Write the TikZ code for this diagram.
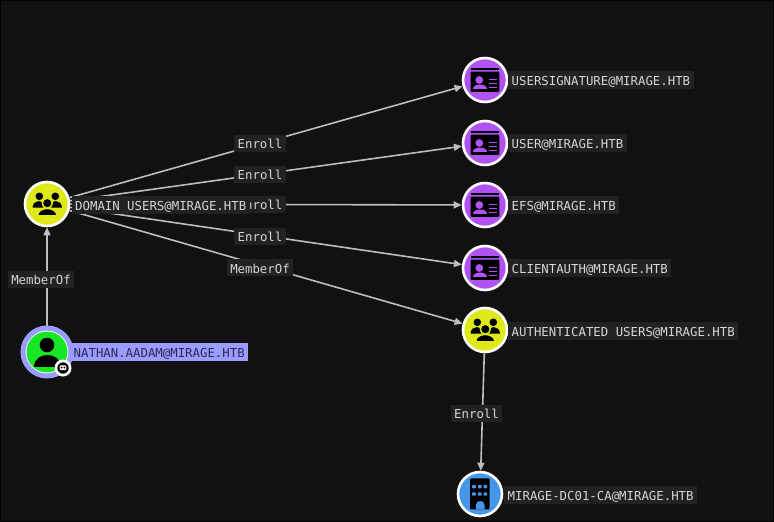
\documentclass[tikz,border=0pt]{standalone}
\usepackage{fontspec}
\setmonofont{DejaVu Sans Mono}
\usetikzlibrary{arrows.meta}
\definecolor{bgc}{HTML}{111111}
\definecolor{lblc}{HTML}{222222}
\definecolor{txtc}{HTML}{D6D6D6}
\definecolor{edgec}{HTML}{BDBDBD}
\definecolor{yelc}{HTML}{DFE818}
\definecolor{purc}{HTML}{B153F3}
\definecolor{grnc}{HTML}{17E625}
\definecolor{bluc}{HTML}{4696E9}
\definecolor{perc}{HTML}{9A9CFF}
\definecolor{navc}{HTML}{2A2A55}
\tikzset{
  x=1pt,y=-1pt,
  gnode/.style={circle,draw=white,line width=2.6pt,minimum size=44pt,inner sep=0pt,fill=#1},
  elabel/.style={fill=lblc,text=txtc,font=\ttfamily\fontsize{12.35}{14}\selectfont,inner xsep=3.5pt,inner ysep=0pt,minimum height=17pt,text height=11pt,text depth=0.5pt},
  nlabel/.style={fill=lblc,text=txtc,font=\ttfamily\fontsize{12.35}{14}\selectfont,anchor=west,inner xsep=3.5pt,inner ysep=0pt,minimum height=18pt,text height=12pt,text depth=0.5pt},
  edge/.style={draw=edgec,line width=1.6pt,-{Triangle[length=8pt,width=7pt,fill=edgec]}},
  certicon/.pic={
    \fill[black] (-14.5,-11.8) rectangle (14.3,-10);
    \fill[black,rounded corners=1pt] (-14.5,-8.3) rectangle (14.3,11.8);
    \fill[purc] (-5.7,0) circle[radius=3.9pt];
    \fill[purc] (-12.3,9) .. controls (-12.3,2.6) and (2.3,2.6) .. (2.3,9) -- cycle;
    \fill[purc] (4,-1.5) rectangle (11.7,0);
    \fill[purc] (4,2.5) rectangle (11.7,4);
    \fill[purc] (4,6.5) rectangle (11.7,8);
  },
  groupicon/.pic={
    \fill[black] (-7.7,-7.7) circle[radius=3.8pt];
    \fill[black] (8.3,-7.7) circle[radius=3.8pt];
    \fill[black] (-14.5,3.6) .. controls (-14,-5) and (-3,-5) .. (-2,3.6) -- cycle;
    \fill[black] (15,3.6) .. controls (14.5,-5) and (3.5,-5) .. (2.5,3.6) -- cycle;
    \fill[black,draw=yelc,line width=1.5pt] (0.3,-0.8) circle[radius=5pt];
    \fill[black,draw=yelc,line width=1.5pt] (-9.5,11.8) .. controls (-9.5,2) and (10,2) .. (10,11.8) -- cycle;
  },
  personicon/.pic={
    \fill[black] (0,-7) circle[radius=7.3pt];
    \fill[black] (-13.5,15) .. controls (-13.5,-1) and (13.5,-1) .. (13.5,15) -- cycle;
  },
  buildicon/.pic={
    \fill[black,rounded corners=1pt] (-10,-15.7) rectangle (9.5,15.3);
    \foreach \wy in {-7.3,0}{\foreach \wx in {-6,-0.3,5.4}{\fill[bluc,rounded corners=.6pt] (\wx-1.8,\wy-1.6) rectangle (\wx+1.8,\wy+1.6);}}
    \fill[bluc] (-4,15.3) -- (-4,11) .. controls (-4,5.7) and (4.5,5.7) .. (4.5,11) -- (4.5,15.3) -- cycle;
  },
}
\begin{document}
\begin{tikzpicture}
\useasboundingbox (0,0) rectangle (774,522);
\fill[bgc] (0,0) rectangle (774,522);
\draw[black,line width=2pt] (0,0) rectangle (774,522);

% nodes
\node[gnode=yelc] (dom) at (47,204) {};
\node[circle,draw=perc,line width=5pt,minimum size=48pt,inner sep=0pt,fill=white] (nat) at (47,352) {};
\node[gnode=purc] (us) at (485,80) {};
\node[gnode=purc] (uu) at (485,143) {};
\node[gnode=purc] (ef) at (485,205) {};
\node[gnode=purc] (ca) at (485,268) {};
\node[gnode=yelc] (au) at (485,330) {};
\node[gnode=bluc] (dc) at (480,494) {};
\fill[grnc] (nat.center) circle[radius=20.5pt];

% connectors
\draw[edge] (nat) -- node[elabel,pos=.5,xshift=-6pt,yshift=-3pt] (l0) {MemberOf} (dom);
\draw[edge] (dom) -- node[elabel,pos=.486,xshift=-.5pt] (l1) {Enroll} (us);
\draw[edge] (dom) -- node[elabel,pos=.486,xshift=-.5pt] (l2) {Enroll} (uu);
\draw[edge] (dom) -- node[elabel,pos=.486,xshift=-.5pt] (l3) {Enroll} (ef);
\draw[edge] (dom) -- node[elabel,pos=.486,xshift=-.5pt,yshift=-1.5pt] (l4) {Enroll} (ca);
\draw[edge] (dom) -- node[elabel,pos=.486,xshift=-.5pt,yshift=-2.5pt] (l5) {MemberOf} (au);
\draw[edge] (au) -- node[elabel,pos=.5,xshift=-6pt,yshift=-1pt] (l6) {Enroll} (dc);

% node labels
\node[nlabel] (tdom) at (71.5,205) {DOMAIN USERS@MIRAGE.HTB};
\node[nlabel,fill=perc,text=navc] (tnat) at (70,352) {NATHAN.AADAM@MIRAGE.HTB};
\node[nlabel] (tus) at (508,80) {USERSIGNATURE@MIRAGE.HTB};
\node[nlabel] (tuu) at (508,143) {USER@MIRAGE.HTB};
\node[nlabel] (tef) at (508,205) {EFS@MIRAGE.HTB};
\node[nlabel] (tca) at (508,268) {CLIENTAUTH@MIRAGE.HTB};
\node[nlabel] (tau) at (508,331) {AUTHENTICATED USERS@MIRAGE.HTB};
\node[nlabel] (tdc) at (504,494.5) {MIRAGE-DC01-CA@MIRAGE.HTB};

% icons
\pic at (dom.center) {groupicon};
\pic at (au.center) {groupicon};
\pic at (us.center) {certicon};
\pic at (uu.center) {certicon};
\pic at (ef.center) {certicon};
\pic at (ca.center) {certicon};
\pic at (dc.center) {buildicon};
\begin{scope}
\clip (nat.center) circle[radius=20.5pt];
\pic at (nat.center) {personicon};
\end{scope}

% badge
\node[circle,fill=white,minimum size=17pt,inner sep=0pt] (bdg) at (63,368) {};
\fill[black] (bdg.center) circle[radius=5.7pt];
\fill[white,rounded corners=1pt] (59.7,365.3) rectangle (66.3,370);
\fill[black] (61.6,367.5) circle[radius=1.1pt];
\fill[black] (64.4,367.5) circle[radius=1.1pt];
\end{tikzpicture}
\end{document}
